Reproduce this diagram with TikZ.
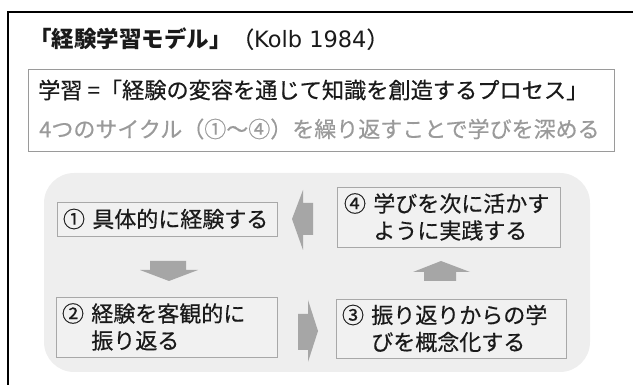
\documentclass[tikz,border=0pt]{standalone}
\usepackage{fontspec}
\setmainfont{Noto Sans CJK JP}[UprightFeatures={FakeBold=0.5}]
\newfontfamily\latinfont{DejaVu Sans}
\definecolor{bgarea}{HTML}{EEEEEE}
\definecolor{boxfill}{HTML}{F1F1F1}
\definecolor{boxline}{HTML}{A8A8A8}
\definecolor{arrowgray}{HTML}{A6A6A6}
\definecolor{subgray}{HTML}{9A9A9A}
\definecolor{txt}{HTML}{1A1A1A}
\tikzset{
  stepbox/.style={draw=boxline, fill=boxfill, line width=0.9pt, inner xsep=6pt, inner ysep=0pt,
    align=left, font=\fontsize{22}{27}\selectfont, text=txt},
  blockarrow/.style={fill=arrowgray, draw=none},
  plaintext/.style={inner sep=0pt, anchor=west, text=txt}
}
\begin{document}
\begin{tikzpicture}[x=1pt,y=-1pt]
\useasboundingbox (0,0) rectangle (633,385);
% outer frame (cut by the page edges)
\draw[line width=2pt, black] (8,390) -- (8,12) -- (640,12);
% title
\node[plaintext, font=\fontsize{22.5}{26}\selectfont] (title) at (29,39)
  {\textbf{「経験学習モデル」}（{\latinfont Kolb 1984}）};
% definition box
\node[draw=subgray, line width=1pt, minimum width=586pt, minimum height=82pt, inner sep=0pt] (defbox) at (321,111) {};
\node[plaintext, font=\fontsize{22.2}{26}\selectfont] (def1) at (38,90)
  {学習 =「経験の変容を通じて知識を創造するプロセス」};
\node[plaintext, font=\fontsize{22}{26}\selectfont, text=subgray] (def2) at (39,129)
  {4つのサイクル（①～④）を繰り返すことで学びを深める};
% cycle area
\node[fill=bgarea, rounded corners=30pt, minimum width=546pt, minimum height=199pt, inner sep=0pt] (cycle) at (317,272.5) {};
% steps
\node[stepbox, text width=208pt, minimum height=34pt] (s1) at (167,219) {① 具体的に経験する};
\node[stepbox, text width=209pt, minimum height=60pt, inner xsep=7pt] (s4) at (448.5,217) {④ 学びを次に活かす\\\phantom{④ }ように実践する};
\node[stepbox, text width=209pt, minimum height=60pt] (s2) at (166.5,327) {② 経験を客観的に\\\phantom{② }振り返る};
\node[stepbox, text width=218pt, minimum height=59pt] (s3) at (451,328.5) {③ 振り返りからの学\\\phantom{③ }びを概念化する};
% block arrows
\fill[blockarrow] (313,203) -- (303,203) -- (303,190) -- (292,219) -- (303,250) -- (303,235) -- (313,235) -- cycle; % 4 -> 1
\fill[blockarrow] (150,261) -- (186,261) -- (186,270) -- (198,270) -- (169,281) -- (140,270) -- (150,270) -- cycle; % 1 -> 2
\fill[blockarrow] (298,314) -- (308,314) -- (308,300) -- (318,331) -- (308,362) -- (308,350) -- (298,350) -- cycle; % 2 -> 3
\fill[blockarrow] (424,281) -- (456,281) -- (456,272) -- (470,272) -- (441,261) -- (413,272) -- (424,272) -- cycle; % 3 -> 4
\end{tikzpicture}
\end{document}
